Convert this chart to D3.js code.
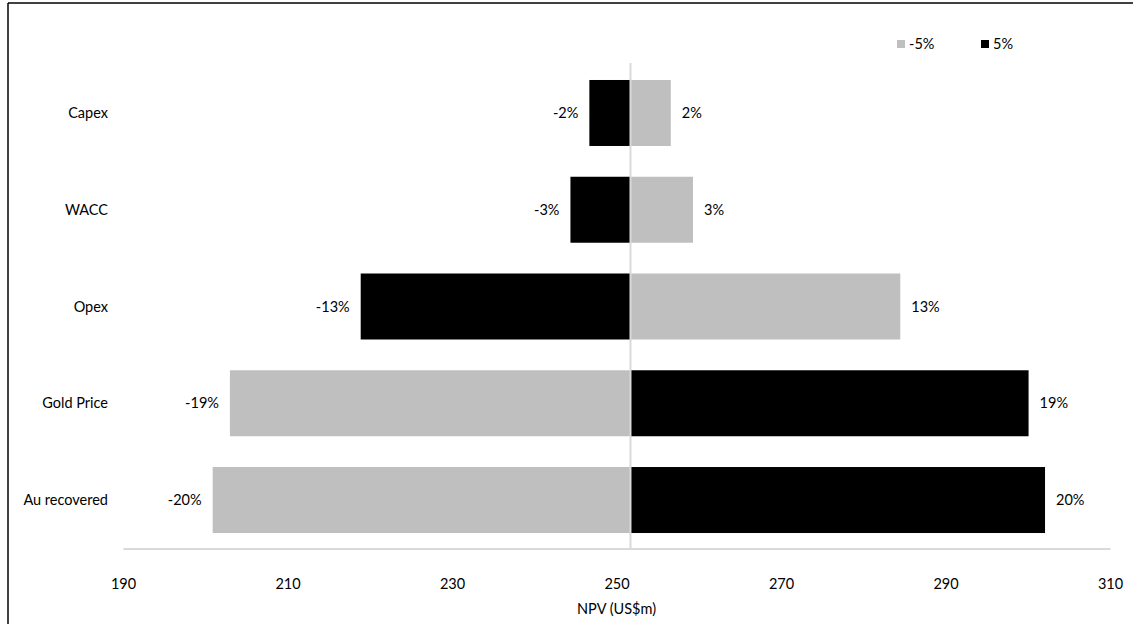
<!DOCTYPE html>
<html>
<head>
<meta charset="utf-8">
<script src="https://cdn.jsdelivr.net/npm/d3@7"></script>
<style>
  html, body { margin: 0; padding: 0; background: #fff; }
  svg { display: block; }
  text { font-family: Lato, "Open Sans", sans-serif; fill: #000; }
</style>
</head>
<body>
<svg id="chart" width="1133" height="624"></svg>
<script>
// ---- data ----
const categories = ["Capex", "WACC", "Opex", "Gold Price", "Au recovered"];
const baseNPV = 251.7;
const minus5 = [256.6, 259.3, 284.5, 203.0, 200.9];   // -5% case NPV (US$m)
const plus5  = [246.7, 244.4, 218.9, 300.1, 302.1];   // +5% case NPV (US$m)
const minus5Labels = ["2%", "3%", "13%", "-19%", "-20%"];
const plus5Labels  = ["-2%", "-3%", "-13%", "19%", "20%"];
const xTicks = [190, 210, 230, 250, 270, 290, 310];
const seriesNames = ["-5%", "5%"];
const seriesColors = ["#bfbfbf", "#000000"];
const axisTitle = "NPV (US$m)";

// ---- layout ----
const FS = 14.5;
const svg = d3.select("#chart");
const plot = { left: 123, right: 1110, top: 64.6, bottom: 548.4 };

const x = d3.scaleLinear().domain([190, 310]).range([plot.left, plot.right]);
const y = d3.scaleBand().domain(categories).range([plot.top, plot.bottom]).paddingInner(0.318).paddingOuter(0.159);

// frame
svg.append("line").attr("x1", 8).attr("x2", 1133).attr("y1", 3).attr("y2", 3)
  .attr("stroke", "#000").attr("stroke-width", 1.5);
svg.append("line").attr("x1", 8).attr("x2", 8).attr("y1", 3).attr("y2", 624)
  .attr("stroke", "#000").attr("stroke-width", 1.5);

// bars
const rows = categories.map((c, i) => ({
  cat: c,
  series: [
    { v: minus5[i], label: minus5Labels[i], color: seriesColors[0] },
    { v: plus5[i],  label: plus5Labels[i],  color: seriesColors[1] }
  ]
}));

const g = svg.append("g");
rows.forEach(r => {
  r.series.forEach(s => {
    const x0 = x(Math.min(baseNPV, s.v));
    const x1 = x(Math.max(baseNPV, s.v));
    g.append("rect")
      .attr("x", x0).attr("width", x1 - x0)
      .attr("y", y(r.cat)).attr("height", y.bandwidth())
      .attr("fill", s.color);
    const right = s.v > baseNPV;
    g.append("text")
      .attr("x", right ? x(s.v) + 11 : x(s.v) - 11)
      .attr("y", y(r.cat) + y.bandwidth() / 2)
      .attr("dy", "0.35em")
      .attr("text-anchor", right ? "start" : "end")
      .attr("font-size", FS)
      .text(s.label);
  });
});

// vertical category axis line at base NPV
svg.append("line")
  .attr("x1", x(baseNPV)).attr("x2", x(baseNPV))
  .attr("y1", 63).attr("y2", plot.bottom)
  .attr("stroke", "#d9d9d9").attr("stroke-width", 2);

// category labels
svg.append("g").selectAll("text").data(categories).join("text")
  .attr("x", 108)
  .attr("y", d => y(d) + y.bandwidth() / 2)
  .attr("dy", "0.35em")
  .attr("text-anchor", "end")
  .attr("font-size", FS)
  .text(d => d);

// x axis
const xAxis = svg.append("g")
  .attr("transform", `translate(0,${plot.bottom})`)
  .call(d3.axisBottom(x).tickValues(xTicks).tickSize(0).tickPadding(30).tickFormat(d3.format("d")));
xAxis.select(".domain").attr("stroke", "#d9d9d9").attr("stroke-width", 2);
xAxis.selectAll("text").attr("font-size", FS).attr("font-family", "Lato, 'Open Sans', sans-serif").attr("fill", "#000");

// axis title
svg.append("text")
  .attr("x", (plot.left + plot.right) / 2)
  .attr("y", 609).attr("dy", "0.35em")
  .attr("text-anchor", "middle")
  .attr("font-size", FS)
  .text(axisTitle);

// legend
const legendX = [897, 981];
seriesNames.forEach((n, i) => {
  svg.append("rect").attr("x", legendX[i]).attr("y", 40).attr("width", 8).attr("height", 8)
    .attr("fill", seriesColors[i]);
  svg.append("text").attr("x", legendX[i] + 12).attr("y", 44).attr("dy", "0.35em")
    .attr("font-size", FS).text(n);
});
</script>
</body>
</html>
